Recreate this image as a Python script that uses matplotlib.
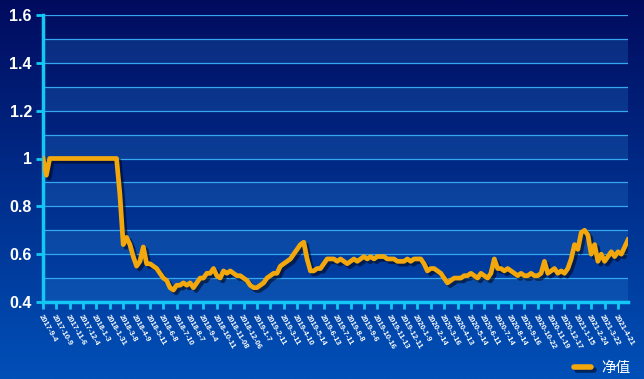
import numpy as np
import matplotlib
matplotlib.use("Agg")
import matplotlib.pyplot as plt
import matplotlib.patheffects as pe
from matplotlib.lines import Line2D

plt.rcParams['font.family'] = ['Noto Sans CJK SC', 'DejaVu Sans']

# date labels shown on the x axis (one every 4 samples)
date_labels = ["2017-9-4", "2017-10-9", "2017-11-6", "2017-12-4",
               "2018-1-3", "2018-1-31", "2018-3-8", "2018-4-9", "2018-5-11", "2018-6-8",
               "2018-7-10", "2018-8-7", "2018-9-4", "2018-10-11", "2018-11-08", "2018-12-06",
               "2019-1-7", "2019-2-11", "2019-3-11", "2019-4-10", "2019-5-14", "2019-6-13",
               "2019-7-11", "2019-8-8", "2019-9-6", "2019-10-16", "2019-11-13", "2019-12-11",
               "2020-1-9", "2020-2-14", "2020-3-16", "2020-4-13", "2020-5-14", "2020-6-11",
               "2020-7-14", "2020-8-14", "2020-9-16", "2020-10-22", "2020-11-19", "2020-12-17",
               "2021-1-15", "2021-2-24", "2021-3-22", "2021-4-21"]

# net value (净值)
nav = [1.00, 0.93, 1.00, 1.00, 1.00, 1.00, 1.00, 1.00, 1.00, 1.00,
       1.00, 1.00, 1.00, 1.00, 1.00, 1.00, 1.00, 1.00, 1.00, 1.00,
       1.00, 1.00, 1.00, 0.85, 0.64, 0.67, 0.64, 0.59, 0.55, 0.57,
       0.63, 0.56, 0.56, 0.55, 0.54, 0.52, 0.50, 0.49, 0.46, 0.45,
       0.47, 0.47, 0.48, 0.47, 0.48, 0.46, 0.48, 0.50, 0.50, 0.52,
       0.52, 0.54, 0.51, 0.50, 0.53, 0.52, 0.53, 0.52, 0.51, 0.51,
       0.50, 0.49, 0.47, 0.46, 0.46, 0.47, 0.48, 0.50, 0.51, 0.52,
       0.52, 0.55, 0.56, 0.57, 0.58, 0.60, 0.62, 0.64, 0.65, 0.58,
       0.53, 0.53, 0.54, 0.54, 0.56, 0.58, 0.58, 0.58, 0.57, 0.58,
       0.57, 0.56, 0.57, 0.58, 0.57, 0.58, 0.59, 0.58, 0.59, 0.58,
       0.59, 0.59, 0.59, 0.58, 0.58, 0.58, 0.57, 0.57, 0.57, 0.58,
       0.57, 0.58, 0.58, 0.58, 0.56, 0.53, 0.54, 0.54, 0.53, 0.52,
       0.50, 0.48, 0.49, 0.50, 0.50, 0.50, 0.51, 0.51, 0.52, 0.51,
       0.50, 0.52, 0.51, 0.50, 0.52, 0.58, 0.54, 0.54, 0.53, 0.54,
       0.53, 0.52, 0.51, 0.52, 0.51, 0.51, 0.52, 0.51, 0.51, 0.52,
       0.57, 0.52, 0.53, 0.54, 0.52, 0.53, 0.52, 0.54, 0.58, 0.64,
       0.62, 0.69, 0.70, 0.68, 0.60, 0.64, 0.57, 0.60, 0.57, 0.59,
       0.61, 0.59, 0.61, 0.60, 0.63, 0.66]
step = 4

W, H = 644, 379
fig = plt.figure(figsize=(W / 100, H / 100), dpi=100)

# background gradient
bg = fig.add_axes([0, 0, 1, 1])
grad = np.linspace(0, 1, 256).reshape(-1, 1)
cmap = matplotlib.colors.LinearSegmentedColormap.from_list("bg", ["#000b5e", "#0050b8"])
bg.imshow(grad, aspect="auto", cmap=cmap, extent=[0, 1, 0, 1])
bg.set_axis_off()

L, R, T, B = 43, 628, 15, 302
ax = fig.add_axes([L / W, 1 - B / H, (R - L) / W, (B - T) / H])
ax.patch.set_alpha(0)

# alternating bands and grid lines
levels = np.round(np.arange(0.4, 1.61, 0.1), 2)
for i in range(len(levels) - 1):
    if i % 2 == 0:
        ax.axhspan(levels[i], levels[i + 1], color="#2a7fd0", alpha=0.25, lw=0, zorder=0)
for lv in levels[1:]:
    ax.axhline(lv, color="#36a6f0", lw=0.9, zorder=1)

x = np.arange(len(nav))
ax.plot(x, nav, color="#f2a80c", lw=3.4, solid_joinstyle="round", zorder=3,
        path_effects=[pe.SimpleLineShadow(offset=(2, -2), shadow_color="#000820", alpha=0.6),
                      pe.Normal()])

ax.set_ylim(0.4, 1.6)
ax.set_xlim(0, len(nav) - 1)
ax.set_yticks([0.4, 0.6, 0.8, 1.0, 1.2, 1.4, 1.6])
ax.set_yticklabels(["0.4", "0.6", "0.8", "1", "1.2", "1.4", "1.6"],
                   color="white", fontsize=11.5, fontweight="bold", family="Liberation Sans")
ax.set_xticks(np.arange(len(date_labels)) * step)
ax.set_xticklabels(date_labels, rotation=-60, ha="left", va="top", rotation_mode="anchor",
                   color="white", fontsize=5.5, fontweight="bold", family="Liberation Sans")

axis_col = "#14c8f5"
for s in ["top", "right"]:
    ax.spines[s].set_visible(False)
for s in ["left", "bottom"]:
    ax.spines[s].set_color(axis_col)
    ax.spines[s].set_linewidth(2.5)
ax.tick_params(axis="both", colors=axis_col, width=2, length=5, labelcolor="white")
ax.tick_params(axis="x", pad=3)
ax.tick_params(axis="y", pad=3)

# legend
handle = Line2D([], [], color="#f2a80c", lw=4, solid_capstyle="round",
                path_effects=[pe.SimpleLineShadow(offset=(2, -2), shadow_color="#000820", alpha=0.6),
                              pe.Normal()])
leg = fig.legend([handle], ["净值"], loc="lower right", bbox_to_anchor=(1.0, -0.025),
                 frameon=False, handlelength=1.2, handletextpad=0.7, fontsize=10.5,
                 labelcolor="white")

fig.savefig("out.png", dpi=100)
